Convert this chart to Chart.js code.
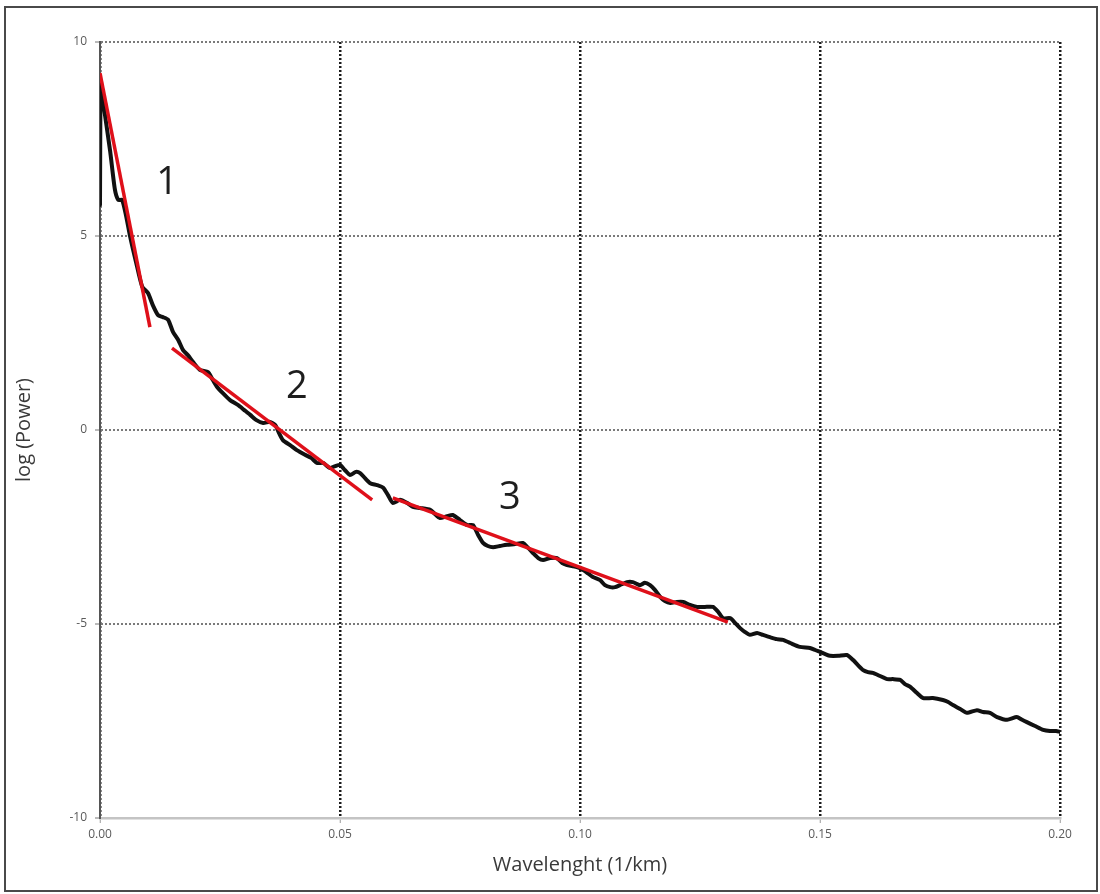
<!DOCTYPE html>
<html>
<head>
<meta charset="utf-8">
<script src="https://cdn.jsdelivr.net/npm/chart.js@4/dist/chart.umd.min.js"></script>
<style>
  html, body { margin: 0; padding: 0; background: #fff; }
  #wrap { position: relative; width: 1100px; height: 894px; }
  #frame { position: absolute; left: 4px; top: 6px; width: 1090px; height: 882px;
           border: 2px solid #4a4a4a; pointer-events: none; }
</style>
</head>
<body>
<div id="wrap">
  <canvas id="spectrum" width="1100" height="894"></canvas>
  <div id="frame"></div>
</div>
<script>
// Power spectrum curve
const freq = [0.0000, 0.0001, 0.0002, 0.0006, 0.0021, 0.0031, 0.0038, 0.0046, 0.0054, 0.0063,
  0.0075, 0.0088, 0.0100, 0.0110, 0.0121, 0.0131, 0.0142, 0.0152, 0.0163, 0.0173,
  0.0183, 0.0194, 0.0208, 0.0225, 0.0235, 0.0244, 0.0256, 0.0271, 0.0288, 0.0300,
  0.0313, 0.0325, 0.0340, 0.0354, 0.0365, 0.0373, 0.0381, 0.0396, 0.0410, 0.0427,
  0.0440, 0.0452, 0.0465, 0.0479, 0.0490, 0.0500, 0.0510, 0.0521, 0.0533, 0.0542,
  0.0552, 0.0563, 0.0577, 0.0590, 0.0600, 0.0610, 0.0625, 0.0640, 0.0652, 0.0667,
  0.0688, 0.0700, 0.0708, 0.0723, 0.0735, 0.0750, 0.0765, 0.0777, 0.0788, 0.0798,
  0.0808, 0.0819, 0.0833, 0.0848, 0.0865, 0.0881, 0.0892, 0.0902, 0.0913, 0.0923,
  0.0938, 0.0952, 0.0963, 0.0973, 0.0985, 0.1000, 0.1013, 0.1027, 0.1042, 0.1052,
  0.1063, 0.1073, 0.1083, 0.1098, 0.1110, 0.1125, 0.1135, 0.1146, 0.1156, 0.1167,
  0.1177, 0.1188, 0.1202, 0.1215, 0.1229, 0.1244, 0.1260, 0.1277, 0.1288, 0.1298,
  0.1313, 0.1323, 0.1333, 0.1344, 0.1354, 0.1369, 0.1381, 0.1396, 0.1410, 0.1423,
  0.1438, 0.1458, 0.1479, 0.1490, 0.1500, 0.1510, 0.1521, 0.1538, 0.1556, 0.1569,
  0.1579, 0.1590, 0.1600, 0.1610, 0.1625, 0.1640, 0.1652, 0.1667, 0.1677, 0.1688,
  0.1702, 0.1715, 0.1735, 0.1756, 0.1767, 0.1777, 0.1792, 0.1806, 0.1827, 0.1840,
  0.1854, 0.1869, 0.1890, 0.1910, 0.1921, 0.1931, 0.1948, 0.1965, 0.1979, 0.1992, 0.2000];
const logPower = [5.80, 8.76, 8.90, 8.50, 7.20, 6.20, 5.93, 5.93, 5.54, 4.97,
  4.33, 3.69, 3.53, 3.22, 2.96, 2.91, 2.84, 2.53, 2.32, 2.06,
  1.93, 1.75, 1.55, 1.49, 1.29, 1.11, 0.95, 0.77, 0.64, 0.52,
  0.39, 0.26, 0.18, 0.21, 0.13, -0.08, -0.26, -0.39, -0.52, -0.64,
  -0.72, -0.85, -0.85, -0.98, -0.93, -0.90, -1.03, -1.16, -1.08, -1.11,
  -1.24, -1.37, -1.42, -1.49, -1.68, -1.88, -1.80, -1.88, -1.98, -2.01,
  -2.06, -2.19, -2.27, -2.22, -2.19, -2.32, -2.45, -2.45, -2.71, -2.91,
  -2.99, -3.02, -2.99, -2.96, -2.94, -2.91, -3.04, -3.17, -3.30, -3.35,
  -3.30, -3.30, -3.43, -3.48, -3.51, -3.56, -3.66, -3.79, -3.87, -4.00,
  -4.05, -4.05, -4.00, -3.92, -3.92, -4.00, -3.94, -4.00, -4.12, -4.30,
  -4.41, -4.46, -4.43, -4.43, -4.51, -4.56, -4.56, -4.56, -4.69, -4.85,
  -4.85, -4.97, -5.10, -5.21, -5.28, -5.23, -5.28, -5.34, -5.39, -5.41,
  -5.49, -5.59, -5.62, -5.67, -5.72, -5.77, -5.82, -5.82, -5.80, -5.93,
  -6.06, -6.19, -6.24, -6.26, -6.34, -6.42, -6.42, -6.44, -6.55, -6.62,
  -6.78, -6.91, -6.91, -6.96, -7.01, -7.09, -7.19, -7.29, -7.22, -7.27,
  -7.29, -7.40, -7.47, -7.40, -7.47, -7.53, -7.63, -7.73, -7.76, -7.76, -7.78];

// Red straight-line fits (segments 1, 2, 3)
const fit1X = [0.0000, 0.0104];
const fit1Y = [9.20, 2.65];
const fit2X = [0.0150, 0.0567];
const fit2Y = [2.11, -1.80];
const fit3X = [0.0610, 0.1308];
const fit3Y = [-1.75, -4.95];

// Segment labels
const segText = ["1", "2", "3"];
const segX = [0.0140, 0.0410, 0.0854];
const segY = [6.37, 1.10, -1.75];

// Axis ticks
const xTicks = [0.00, 0.05, 0.10, 0.15, 0.20];
const yTicks = [-10, -5, 0, 5, 10];

const toPoints = (xs, ys) => xs.map((x, i) => ({ x: x, y: ys[i] }));

const fitStyle = { borderColor: "#df101a", borderWidth: 3.5, pointRadius: 0, fill: false, tension: 0 };

// draws the 1 / 2 / 3 labels at data positions
const segLabels = {
    id: "segLabels",
    afterDatasetsDraw(chart) {
        const { ctx, scales } = chart;
        ctx.save();
        ctx.font = "38px 'Open Sans', sans-serif";
        ctx.fillStyle = "#1e1e1e";
        ctx.textAlign = "center";
        ctx.textBaseline = "middle";
        segText.forEach((t, i) => {
            ctx.fillText(t, scales.x.getPixelForValue(segX[i]), scales.y.getPixelForValue(segY[i]));
        });
        ctx.restore();
    }
};

const ctx = document.getElementById("spectrum").getContext("2d");
new Chart(ctx, {
    type: "line",
    data: {
        datasets: [
            { data: toPoints(fit1X, fit1Y), ...fitStyle, order: 0 },
            { data: toPoints(fit2X, fit2Y), ...fitStyle, order: 0 },
            { data: toPoints(fit3X, fit3Y), ...fitStyle, order: 0 },
            { data: toPoints(freq, logPower), borderColor: "#111", borderWidth: 4, pointRadius: 0,
              fill: false, tension: 0.2, borderJoinStyle: "round", borderCapStyle: "round", order: 1 }
        ]
    },
    options: {
        responsive: false,
        animation: false,
        layout: { padding: { left: 0, top: 42, right: 40, bottom: 0 } },
        plugins: { legend: { display: false }, tooltip: { enabled: false } },
        scales: {
            x: {
                type: "linear",
                min: 0, max: 0.2,
                afterFit: (s) => { s.height = 76; },
                afterBuildTicks: (s) => { s.ticks = xTicks.map(v => ({ value: v })); },
                ticks: { color: "#5a5a5a", font: { family: "'Open Sans', sans-serif", size: 12 }, padding: 4,
                         maxRotation: 0, callback: (v) => v.toFixed(2) },
                grid: { color: "#1a1a1a", lineWidth: 2.5, tickLength: 5, tickColor: "#999", tickWidth: 1 },
                border: { display: true, color: "#c4c4c4", width: 2.5, dash: [2, 2] },
                title: { display: true, text: "Wavelenght (1/km)", color: "#3a3a3a",
                         font: { family: "'Open Sans', sans-serif", size: 20 }, padding: { top: 0, bottom: 17 } }
            },
            y: {
                min: -10, max: 10,
                afterFit: (s) => { s.width = 100; },
                afterBuildTicks: (s) => { s.ticks = yTicks.map(v => ({ value: v })); },
                ticks: { color: "#5a5a5a", font: { family: "'Open Sans', sans-serif", size: 12 }, padding: 8 },
                grid: { color: "#7a7a7a", lineWidth: 2, tickLength: 5, tickColor: "#777", tickWidth: 1 },
                border: { display: true, color: "#555", width: 2, dash: [2, 2] },
                title: { display: true, text: "log (Power)", color: "#3a3a3a",
                         font: { family: "'Open Sans', sans-serif", size: 20 }, padding: { top: 12, bottom: 0 } }
            }
        }
    },
    plugins: [segLabels]
});
</script>
</body>
</html>
